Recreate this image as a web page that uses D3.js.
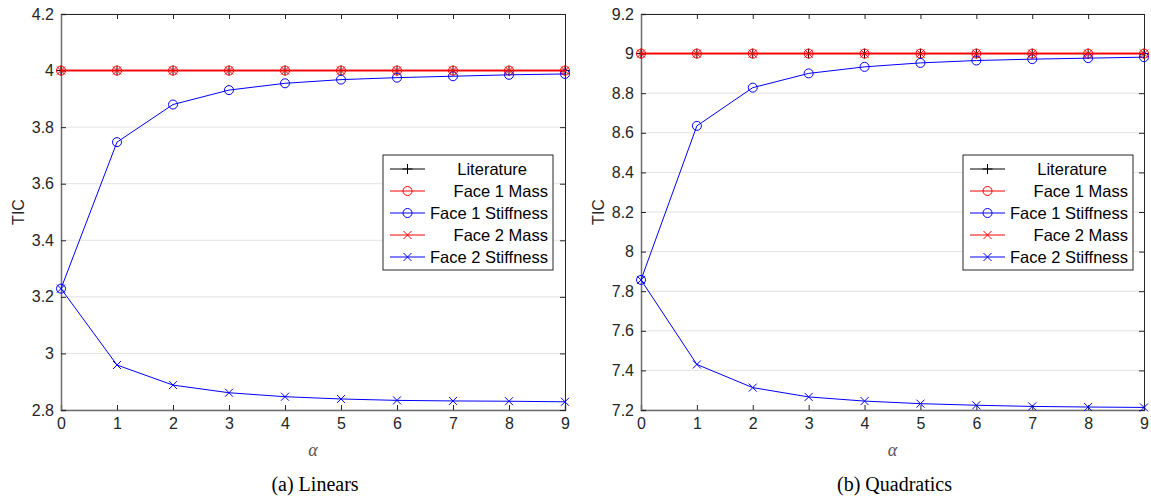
<!DOCTYPE html>
<html>
<head>
<meta charset="utf-8">
<script src="https://cdn.jsdelivr.net/npm/d3@7/dist/d3.min.js"></script>
<style>
  html, body { margin: 0; padding: 0; background: #fff; }
  svg { display: block; }
</style>
</head>
<body>
<svg id="chart" width="1151" height="503"></svg>
<script>
// alpha values on the x axis
const alphas = [0, 1, 2, 3, 4, 5, 6, 7, 8, 9];
const seriesNames = ["Literature", "Face 1 Mass", "Face 1 Stiffness", "Face 2 Mass", "Face 2 Stiffness"];

// (a) Linears
const linLiterature = [4, 4, 4, 4, 4, 4, 4, 4, 4, 4];
const linFace1Mass = [4, 4, 4, 4, 4, 4, 4, 4, 4, 4];
const linFace1Stiff = [3.229, 3.747, 3.88, 3.931, 3.955, 3.968, 3.975, 3.98, 3.985, 3.988];
const linFace2Mass = [4, 4, 4, 4, 4, 4, 4, 4, 4, 4];
const linFace2Stiff = [3.229, 2.959, 2.888, 2.861, 2.847, 2.839, 2.834, 2.832, 2.831, 2.829];
const linYTicks = [2.8, 3, 3.2, 3.4, 3.6, 3.8, 4, 4.2];

// (b) Quadratics
const quadLiterature = [9, 9, 9, 9, 9, 9, 9, 9, 9, 9];
const quadFace1Mass = [9, 9, 9, 9, 9, 9, 9, 9, 9, 9];
const quadFace1Stiff = [7.857, 8.635, 8.828, 8.9, 8.933, 8.953, 8.965, 8.972, 8.977, 8.982];
const quadFace2Mass = [9, 9, 9, 9, 9, 9, 9, 9, 9, 9];
const quadFace2Stiff = [7.857, 7.43, 7.313, 7.266, 7.245, 7.232, 7.224, 7.218, 7.215, 7.213];
const quadYTicks = [7.2, 7.4, 7.6, 7.8, 8, 8.2, 8.4, 8.6, 8.8, 9, 9.2];

const STYLES = [
  { color: "#000000", marker: "plus",   width: 1 },
  { color: "#ff0000", marker: "circle", width: 1.5 },
  { color: "#0000ff", marker: "circle", width: 1 },
  { color: "#ff0000", marker: "cross",  width: 1.5 },
  { color: "#0000ff", marker: "cross",  width: 1 },
];

const SANS = "'Liberation Sans', Arial, Helvetica, sans-serif";
const SERIF = "'Liberation Serif', 'Times New Roman', serif";
const svg = d3.select("#chart");

function drawMarker(g, type, cx, cy, color) {
  if (type === "circle") {
    g.append("circle").attr("cx", cx).attr("cy", cy).attr("r", 4.5)
      .attr("fill", "none").attr("stroke", color).attr("stroke-width", 1);
  } else if (type === "cross") {
    const s = 4;
    g.append("path")
      .attr("d", `M${cx - s},${cy - s}L${cx + s},${cy + s}M${cx - s},${cy + s}L${cx + s},${cy - s}`)
      .attr("stroke", color).attr("stroke-width", 1).attr("fill", "none");
  } else {
    const s = 5;
    g.append("path")
      .attr("d", `M${cx - s},${cy}L${cx + s},${cy}M${cx},${cy - s}L${cx},${cy + s}`)
      .attr("stroke", color).attr("stroke-width", 1).attr("fill", "none");
  }
}

function drawPanel(cfg) {
  const g = svg.append("g");
  const x = d3.scaleLinear().domain([0, 9]).range([cfg.left, cfg.right]);
  const y = d3.scaleLinear().domain(cfg.yDomain).range([cfg.bottom, cfg.top]);

  // horizontal grid
  g.append("g").selectAll("line").data(cfg.yTicks).join("line")
    .attr("x1", cfg.left).attr("x2", cfg.right)
    .attr("y1", d => y(d)).attr("y2", d => y(d))
    .attr("stroke", "#e3e3e3").attr("stroke-width", 1);

  // axes (ticks inward, mirrored on top / right)
  const fmt = d3.format("~g");
  const bottomAxis = d3.axisBottom(x).tickValues(alphas).tickSize(-5).tickPadding(8).tickFormat(fmt);
  const topAxis = d3.axisTop(x).tickValues(alphas).tickSize(-5).tickFormat("");
  const leftAxis = d3.axisLeft(y).tickValues(cfg.yTicks).tickSize(-5).tickPadding(7).tickFormat(fmt);
  const rightAxis = d3.axisRight(y).tickValues(cfg.yTicks).tickSize(-5).tickFormat("");

  const axes = [
    g.append("g").attr("transform", `translate(0,${cfg.bottom})`).call(bottomAxis),
    g.append("g").attr("transform", `translate(0,${cfg.top})`).call(topAxis),
    g.append("g").attr("transform", `translate(${cfg.left},0)`).call(leftAxis),
    g.append("g").attr("transform", `translate(${cfg.right},0)`).call(rightAxis),
  ];
  axes.forEach((a, i) => {
    a.select(".domain").attr("stroke", i === 0 || i === 2 ? "#6e6e6e" : "#262626")
      .attr("stroke-width", i === 0 || i === 2 ? 1.5 : 1);
    a.selectAll(".tick line").attr("stroke", "#262626");
    a.selectAll(".tick text").attr("fill", "#262626")
      .style("font-family", SANS).style("font-size", "16px");
  });

  // series lines + markers
  const line = d3.line().x((d, i) => x(alphas[i])).y(d => y(d));
  cfg.series.forEach((vals, k) => {
    const st = STYLES[k];
    g.append("path").datum(vals).attr("d", line)
      .attr("fill", "none").attr("stroke", st.color).attr("stroke-width", st.width);
    const mg = g.append("g");
    vals.forEach((v, i) => drawMarker(mg, st.marker, x(alphas[i]), y(v), st.color));
  });

  // axis labels
  g.append("text")
    .attr("transform", `translate(${cfg.left - 37},${(cfg.top + cfg.bottom) / 2}) rotate(-90)`)
    .attr("text-anchor", "middle")
    .style("font-family", SANS).style("font-size", "16px").attr("fill", "#262626")
    .text("TIC");
  g.append("text")
    .attr("x", (cfg.left + cfg.right) / 2).attr("y", cfg.bottom + 46)
    .attr("text-anchor", "middle")
    .style("font-family", SERIF).style("font-style", "italic").style("font-size", "18px")
    .attr("fill", "#555")
    .text("α");
  g.append("text")
    .attr("x", (cfg.left + cfg.right) / 2 + 2).attr("y", cfg.bottom + 81)
    .attr("text-anchor", "middle")
    .style("font-family", SERIF).style("font-size", "20px").attr("fill", "#000")
    .text(cfg.caption);

  // legend
  const lg = g.append("g").attr("transform", `translate(${cfg.legendX},${cfg.legendY})`);
  const lw = 170, lh = 115, rowH = 22;
  lg.append("rect").attr("width", lw).attr("height", lh)
    .attr("fill", "#fff").attr("stroke", "#262626").attr("stroke-width", 1);
  seriesNames.forEach((name, k) => {
    const st = STYLES[k];
    const cy = 14 + k * rowH;
    lg.append("line").attr("x1", 7).attr("x2", 42).attr("y1", cy).attr("y2", cy)
      .attr("stroke", st.color).attr("stroke-width", 1);
    drawMarker(lg, st.marker, 24.5, cy, st.color);
    lg.append("text")
      .attr("x", k === 0 ? lw - 26 : lw - 5).attr("y", cy + 6)
      .attr("text-anchor", "end")
      .style("font-family", SANS).style("font-size", "16.5px").attr("fill", "#000")
      .text(name);
  });
}

drawPanel({
  left: 61, right: 565, top: 14, bottom: 410,
  yDomain: [2.8, 4.2], yTicks: linYTicks,
  series: [linLiterature, linFace1Mass, linFace1Stiff, linFace2Mass, linFace2Stiff],
  caption: "(a) Linears",
  legendX: 383, legendY: 155,
});

drawPanel({
  left: 641, right: 1144, top: 14, bottom: 410,
  yDomain: [7.2, 9.2], yTicks: quadYTicks,
  series: [quadLiterature, quadFace1Mass, quadFace1Stiff, quadFace2Mass, quadFace2Stiff],
  caption: "(b) Quadratics",
  legendX: 963, legendY: 155,
});
</script>
</body>
</html>
